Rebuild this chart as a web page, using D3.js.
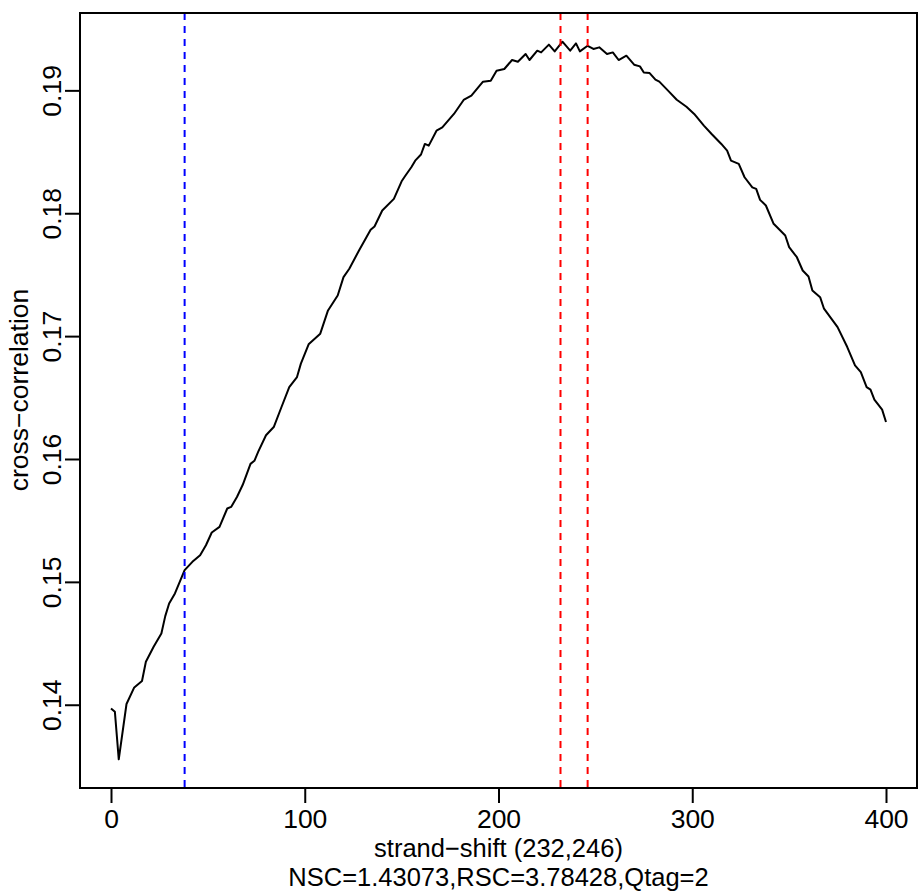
<!DOCTYPE html>
<html>
<head>
<meta charset="utf-8">
<script src="https://cdn.jsdelivr.net/npm/d3@7/dist/d3.min.js"></script>
<style>
  html, body { margin: 0; padding: 0; background: #fff; }
  svg { display: block; }
  text { font-family: "Liberation Sans", Arial, Helvetica, sans-serif; fill: #000; }
</style>
</head>
<body>
<svg id="chart" width="918" height="896"></svg>
<script>
// ---- data ----
const shift = [0, 2, 4, 8, 12, 16, 18, 22, 26, 28, 30, 33, 38, 42, 46, 49, 52, 56, 60, 62,
  65, 68, 72, 74, 76, 80, 84, 88, 92, 96, 98, 102, 108, 112, 117, 120, 123, 128, 134, 136,
  140, 146, 150, 152, 155, 157, 160, 162, 164, 168, 171, 177, 182, 186, 192, 196, 199, 203, 207, 210,
  214, 216, 220, 222, 226, 229, 233, 237, 240, 242, 246, 249, 252, 256, 259, 262, 266, 270, 273, 275,
  278, 281, 283, 288, 292, 297, 301, 306, 310, 315, 318, 320, 324, 327, 331, 333, 335, 338, 342, 348,
  350, 354, 357, 360, 362, 366, 368, 375, 380, 384, 387, 390, 392, 394, 398, 400];
const corr = [0.13970, 0.13943, 0.13556, 0.14006, 0.14141, 0.14193, 0.14350, 0.14472, 0.14580, 0.14721,
  0.14824, 0.14906, 0.15095, 0.15163, 0.15217, 0.15298, 0.15402, 0.15447, 0.15597, 0.15610,
  0.15691, 0.15790, 0.15960, 0.15985, 0.16060, 0.16193, 0.16260, 0.16423, 0.16585, 0.16667,
  0.16776, 0.16933, 0.17020, 0.17209, 0.17331, 0.17480, 0.17548, 0.17697, 0.17865, 0.17892,
  0.18022, 0.18117, 0.18260, 0.18307, 0.18374, 0.18428, 0.18478, 0.18564, 0.18550, 0.18672,
  0.18699, 0.18808, 0.18922, 0.18957, 0.19071, 0.19079, 0.19160, 0.19174, 0.19247, 0.19233,
  0.19296, 0.19247, 0.19323, 0.19309, 0.19372, 0.19317, 0.19396, 0.19323, 0.19382, 0.19317,
  0.19363, 0.19337, 0.19350, 0.19296, 0.19309, 0.19247, 0.19282, 0.19209, 0.19195, 0.19146,
  0.19141, 0.19087, 0.19071, 0.18990, 0.18924, 0.18867, 0.18808, 0.18713, 0.18645, 0.18564,
  0.18510, 0.18428, 0.18402, 0.18293, 0.18211, 0.18198, 0.18109, 0.18063, 0.17914, 0.17819,
  0.17724, 0.17642, 0.17534, 0.17485, 0.17372, 0.17317, 0.17223, 0.17073, 0.16911, 0.16762,
  0.16707, 0.16585, 0.16564, 0.16483, 0.16402, 0.16301];
const xTicks = [0, 100, 200, 300, 400];
const yTicks = [0.14, 0.15, 0.16, 0.17, 0.18, 0.19];
const yTickLabels = ["0.14", "0.15", "0.16", "0.17", "0.18", "0.19"];
const minShiftLines = [38];
const peakShiftLines = [232, 246];
const xLabel = "strand\u2212shift (232,246)";
const xSubLabel = "NSC=1.43073,RSC=3.78428,Qtag=2";
const yLabel = "cross\u2212correlation";

// ---- layout ----
const box = { left: 80, right: 917, top: 13, bottom: 788 };
const fontSize = 26.5;
const titleFontSize = 25.5;

const svg = d3.select("#chart");

const xExt = d3.extent(shift), yExt = d3.extent(corr);
const xPad = (xExt[1] - xExt[0]) * 0.04, yPad = (yExt[1] - yExt[0]) * 0.04;
const x = d3.scaleLinear().domain([xExt[0] - xPad, xExt[1] + xPad]).range([box.left, box.right]);
const y = d3.scaleLinear().domain([yExt[0] - yPad, yExt[1] + yPad]).range([box.bottom, box.top]);

const data = shift.map((s, i) => ({ s, c: corr[i] }));

// clip
svg.append("clipPath").attr("id", "clip").append("rect")
  .attr("x", box.left).attr("y", box.top)
  .attr("width", box.right - box.left).attr("height", box.bottom - box.top);

const plot = svg.append("g").attr("clip-path", "url(#clip)");

// curve
plot.append("path").datum(data)
  .attr("fill", "none").attr("stroke", "#000").attr("stroke-width", 2)
  .attr("stroke-linejoin", "round")
  .attr("d", d3.line().x(d => x(d.s)).y(d => y(d.c)));

// vertical dashed lines
plot.selectAll("line.minl").data(minShiftLines).join("line")
  .attr("class", "minl")
  .attr("x1", d => x(d)).attr("x2", d => x(d))
  .attr("y1", box.top).attr("y2", box.bottom)
  .attr("stroke", "#0000ff").attr("stroke-width", 2).attr("stroke-dasharray", "7,6");
plot.selectAll("line.peakl").data(peakShiftLines).join("line")
  .attr("class", "peakl")
  .attr("x1", d => x(d)).attr("x2", d => x(d))
  .attr("y1", box.top).attr("y2", box.bottom)
  .attr("stroke", "#ff0000").attr("stroke-width", 2).attr("stroke-dasharray", "7,6");

// box
svg.append("rect")
  .attr("x", box.left).attr("y", box.top)
  .attr("width", box.right - box.left).attr("height", box.bottom - box.top)
  .attr("fill", "none").attr("stroke", "#000").attr("stroke-width", 2);

// x axis
const xAxis = svg.append("g")
  .attr("transform", `translate(0,${box.bottom})`)
  .call(d3.axisBottom(x).tickValues(xTicks).tickFormat(d3.format("d")).tickSize(15).tickPadding(6.5).tickSizeOuter(0));
xAxis.select(".domain")
  .attr("d", `M${x(xTicks[0])},0H${x(xTicks[xTicks.length - 1])}`)
  .attr("stroke-width", 2);
xAxis.selectAll(".tick line").attr("stroke-width", 2);
xAxis.selectAll(".tick text").attr("font-size", fontSize).attr("font-family", null);

// y axis
const yAxis = svg.append("g")
  .attr("transform", `translate(${box.left},0)`)
  .call(d3.axisLeft(y).tickValues(yTicks).tickFormat((d, i) => yTickLabels[i]).tickSize(15).tickSizeOuter(0));
yAxis.select(".domain")
  .attr("d", `M0,${y(yTicks[0])}V${y(yTicks[yTicks.length - 1])}`)
  .attr("stroke-width", 2);
yAxis.selectAll(".tick line").attr("stroke-width", 2);
yAxis.selectAll(".tick text")
  .attr("font-size", fontSize).attr("font-family", null)
  .attr("x", null).attr("dy", null)
  .attr("text-anchor", "middle")
  .attr("transform", "translate(-19.5,0) rotate(-90)");
xAxis.attr("font-family", null);
yAxis.attr("font-family", null);

// axis titles
const cx = (box.left + box.right) / 2;
svg.append("text").attr("x", cx).attr("y", 857).attr("text-anchor", "middle")
  .attr("font-size", titleFontSize).text(xLabel);
svg.append("text").attr("x", cx).attr("y", 886).attr("text-anchor", "middle")
  .attr("font-size", titleFontSize).text(xSubLabel);
svg.append("text")
  .attr("transform", `translate(28.3,390) rotate(-90)`)
  .attr("text-anchor", "middle").attr("font-size", fontSize).text(yLabel);
</script>
</body>
</html>
